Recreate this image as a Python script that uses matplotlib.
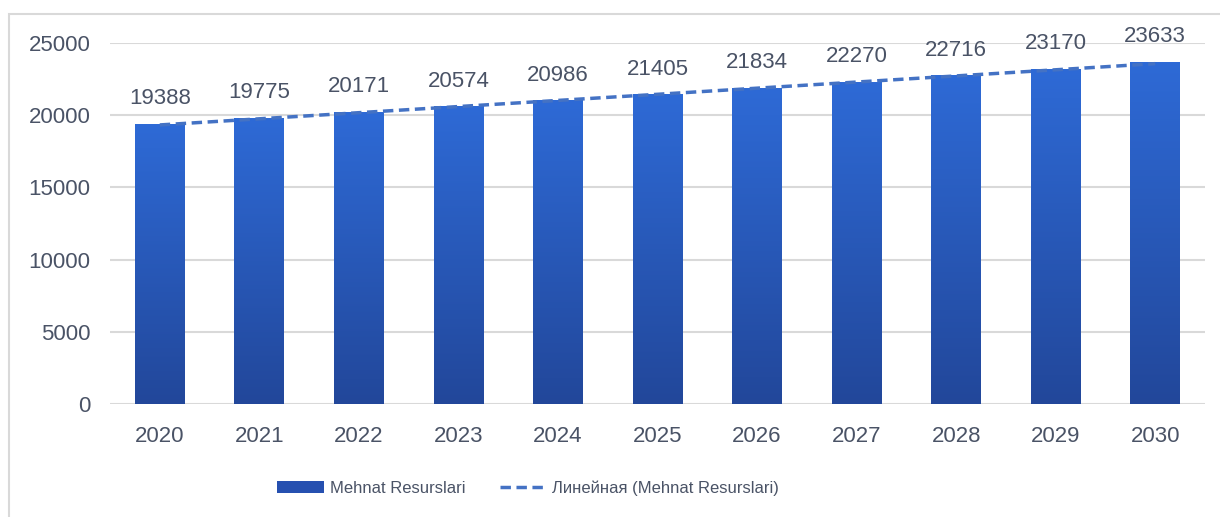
import numpy as np
import matplotlib.pyplot as plt
from matplotlib.patches import Rectangle
from matplotlib.colors import LinearSegmentedColormap
from matplotlib.lines import Line2D

years = ["2020", "2021", "2022", "2023", "2024", "2025", "2026", "2027", "2028", "2029", "2030"]
values = [19388, 19775, 20171, 20574, 20986, 21405, 21834, 22270, 22716, 23170, 23633]
series_name = "Mehnat Resurslari"
trend_name = "Линейная (Mehnat Resurslari)"

plt.rcParams['font.family'] = ['Liberation Sans', 'DejaVu Sans']
text_color = "#4A5366"

fig = plt.figure(figsize=(12.2, 5.17), dpi=100)
# light frame around the chart
fig.patches.append(Rectangle((9 / 1220, -0.1), 1.2, 1 - 14 / 517 + 0.1,
                             transform=fig.transFigure, fill=False,
                             edgecolor="#D9D9D9", linewidth=1.5))

ax = fig.add_axes([110 / 1220, 1 - 404 / 517, 1095 / 1220, 361 / 517])
x = np.arange(len(years))
width = 0.5

# gradient bars
cmap = LinearSegmentedColormap.from_list("bar", ["#22479A", "#2E6AD6"])
grad = np.linspace(0, 1, 256).reshape(-1, 1)
bars = ax.bar(x, values, width=width, color="none", zorder=2)
for b in bars:
    x0, w, h = b.get_x(), b.get_width(), b.get_height()
    ax.imshow(grad, cmap=cmap, origin="lower", aspect="auto",
              extent=(x0, x0 + w, 0, h), zorder=2)

# linear trendline
coef = np.polyfit(x, values, 1)
trend = np.polyval(coef, x)
ax.plot(x, trend, linestyle=(0, (3, 1.6)), color="#4472C4", linewidth=2.5, zorder=3)

for xi, v in zip(x, values):
    ax.annotate(str(v), (xi, v), xytext=(0, 11), textcoords="offset points",
                ha="center", va="bottom", fontsize=16, color=text_color)

ax.set_xlim(-0.5, len(years) - 0.5)
ax.set_ylim(0, 25000)
ax.set_yticks(range(0, 25001, 5000))
ax.set_xticks(x)
ax.set_xticklabels(years)
ax.tick_params(axis="both", length=0, labelsize=16, labelcolor=text_color)
ax.tick_params(axis="x", pad=16)
ax.tick_params(axis="y", pad=14)
ax.grid(axis="y", color="#D9D9D9", linewidth=1.5, zorder=0)
ax.set_axisbelow(True)
for s in ax.spines.values():
    s.set_visible(False)

handles = [Rectangle((0, 0), 1, 1, facecolor="#2650B0"),
           Line2D([0], [0], linestyle=(0, (3, 1.6)), color="#4472C4", linewidth=2.5)]
fig.legend(handles, [series_name, trend_name], loc="center left",
           bbox_to_anchor=(277 / 1220, 1 - 488 / 517), ncol=2, frameon=False,
           fontsize=12, labelcolor=text_color, handlelength=2.8,
           handleheight=0.7, columnspacing=2.1, handletextpad=0.35, borderpad=0,
           borderaxespad=0)

fig.savefig("out.png", dpi=100)
